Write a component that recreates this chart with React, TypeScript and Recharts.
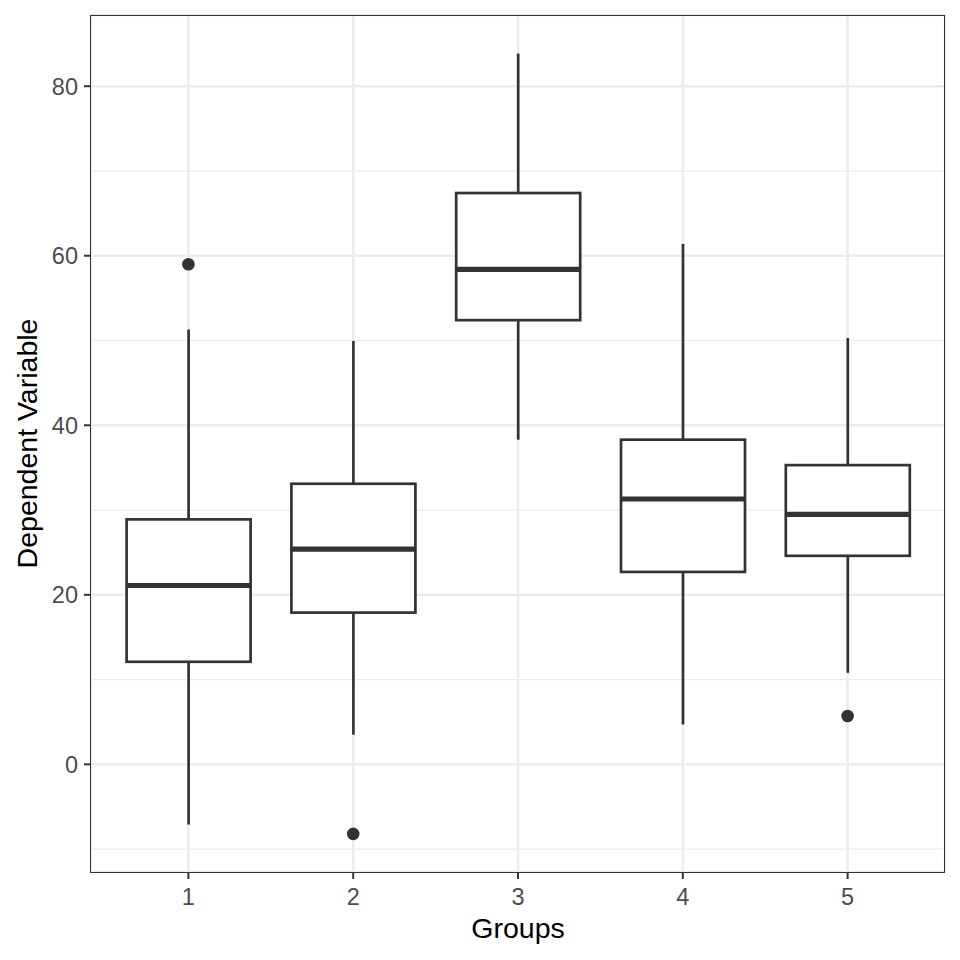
import React from "react";
import {
  ComposedChart,
  Bar,
  Scatter,
  XAxis,
  YAxis,
  CartesianGrid,
  Label,
} from "recharts";

// box plot stats per group
const groups = ["1", "2", "3", "4", "5"];
const lowerWhisker = [-7.1, 3.5, 38.3, 4.7, 10.8];
const q1 = [12.1, 17.9, 52.4, 22.7, 24.6];
const medians = [21.1, 25.4, 58.4, 31.3, 29.5];
const q3 = [28.9, 33.1, 67.4, 38.3, 35.3];
const upperWhisker = [51.3, 49.95, 83.85, 61.4, 50.3];

const outlierGroups = ["1", "2", "5"];
const outlierValues = [59.0, -8.2, 5.7];

const yTicks = [0, 20, 40, 60, 80];
const yMinorTicks = [-10, 10, 30, 50, 70];

const boxData = groups.map((g, i) => ({
  group: g,
  range: [lowerWhisker[i], upperWhisker[i]],
  min: lowerWhisker[i],
  q1: q1[i],
  median: medians[i],
  q3: q3[i],
  max: upperWhisker[i],
}));

const outlierData = outlierGroups.map((g, i) => ({
  group: g,
  value: outlierValues[i],
}));

const ink = "#333333";

// draws whiskers + box + median inside the bar's [min, max] pixel range
const BoxShape = (props: any) => {
  const { x, y, width, height } = props;
  const d = props.payload || props;
  const top = Math.min(y, y + height);
  const bottom = Math.max(y, y + height);
  const py = (v: number) =>
    bottom - ((v - d.min) / (d.max - d.min)) * (bottom - top);
  const cx = x + width / 2;
  return (
    <g>
      <line x1={cx} x2={cx} y1={py(d.max)} y2={py(d.q3)} stroke={ink} strokeWidth={2.7} />
      <line x1={cx} x2={cx} y1={py(d.q1)} y2={py(d.min)} stroke={ink} strokeWidth={2.7} />
      <rect
        x={x}
        y={py(d.q3)}
        width={width}
        height={py(d.q1) - py(d.q3)}
        fill="#FFFFFF"
        stroke={ink}
        strokeWidth={2.7}
      />
      <line x1={x} x2={x + width} y1={py(d.median)} y2={py(d.median)} stroke={ink} strokeWidth={5.2} />
    </g>
  );
};

const Dot = (props: any) => (
  <circle cx={props.cx} cy={props.cy} r={6.3} fill={ink} />
);

export default function App() {
  return (
    <div
      style={{
        position: "absolute",
        top: 0,
        left: 0,
        width: 960,
        height: 960,
        background: "#FFFFFF",
        fontFamily: "'Liberation Sans', Arial, sans-serif",
      }}
    >
      <ComposedChart
        width={960}
        height={960}
        data={boxData}
        margin={{ top: 15, right: 15, bottom: 0, left: 0 }}
        barCategoryGap="12.5%"
      >
        <CartesianGrid
          horizontalValues={yMinorTicks}
          vertical={false}
          stroke="#EBEBEB"
          strokeWidth={1.2}
        />
        <CartesianGrid stroke="#EBEBEB" strokeWidth={2.4} />
        <XAxis
          dataKey="group"
          type="category"
          allowDuplicatedCategory={false}
          padding={{ left: 15, right: 15 }}
          height={88}
          axisLine={false}
          tickSize={7}
          tickMargin={9}
          tickLine={{ stroke: ink, strokeWidth: 2 }}
          tick={{ fill: "#4D4D4D", fontSize: 23.5 }}
        >
          <Label
            value="Groups"
            position="insideBottom"
            offset={22}
            style={{ fill: "#000000", fontSize: 28.5 }}
          />
        </XAxis>
        <YAxis
          type="number"
          domain={[-12.7, 88.4]}
          ticks={yTicks}
          width={91}
          axisLine={false}
          tickSize={7}
          tickMargin={6}
          tickLine={{ stroke: ink, strokeWidth: 2 }}
          tick={{ fill: "#4D4D4D", fontSize: 23.5 }}
        >
          <Label
            value="Dependent Variable"
            angle={-90}
            position="insideLeft"
            offset={27}
            style={{ fill: "#000000", fontSize: 28.5, textAnchor: "middle" }}
          />
        </YAxis>
        <Bar dataKey="range" shape={BoxShape} isAnimationActive={false} />
        <Scatter
          data={outlierData}
          dataKey="value"
          shape={Dot}
          isAnimationActive={false}
        />
      </ComposedChart>
      <div
        style={{
          position: "absolute",
          left: 90,
          top: 15,
          width: 855,
          height: 858,
          border: `1.6px solid ${ink}`,
          boxSizing: "border-box",
          pointerEvents: "none",
        }}
      />
    </div>
  );
}
